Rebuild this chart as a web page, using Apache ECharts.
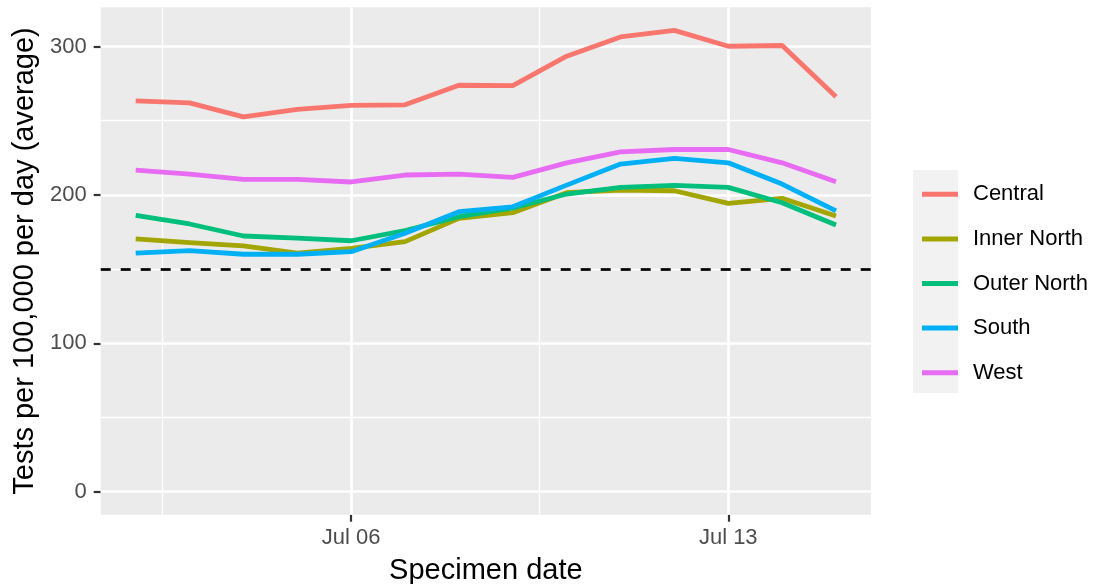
<!DOCTYPE html>
<html>
<head>
<meta charset="utf-8">
<script src="https://cdn.jsdelivr.net/npm/echarts@6/dist/echarts.min.js"></script>
<style>
  html, body { margin: 0; padding: 0; background: #ffffff; }
  #chart { width: 1094px; height: 584px; }
</style>
</head>
<body>
<div id="chart"></div>
<script>
// ---- data ----
const dates = ['2020-07-02','2020-07-03','2020-07-04','2020-07-05','2020-07-06','2020-07-07','2020-07-08',
               '2020-07-09','2020-07-10','2020-07-11','2020-07-12','2020-07-13','2020-07-14','2020-07-15'];
const central    = [263.4, 262.0, 252.6, 257.6, 260.3, 260.7, 273.9, 273.7, 293.5, 306.5, 310.9, 300.2, 300.7, 266.1];
const innerNorth = [170.3, 167.8, 165.6, 160.7, 164.0, 168.5, 184.2, 188.0, 201.5, 203.3, 202.8, 194.3, 197.7, 185.8];
const outerNorth = [186.2, 180.4, 172.3, 170.8, 169.1, 175.9, 185.3, 191.2, 200.6, 205.1, 206.4, 205.1, 194.7, 179.7];
const south      = [160.7, 162.4, 160.0, 160.0, 161.7, 174.1, 188.7, 192.0, 206.6, 220.8, 224.6, 221.6, 207.3, 189.3];
const west       = [216.7, 214.0, 210.5, 210.5, 208.7, 213.4, 214.0, 211.8, 221.6, 229.0, 230.6, 230.6, 221.6, 208.9];
const seriesNames = ['Central', 'Inner North', 'Outer North', 'South', 'West'];
const threshold = 150;
const xTickDays = [6, 13];
const xTickLabels = ['Jul 06', 'Jul 13'];
const xMinorDays = [2.5, 9.5];
const yTicks = [0, 100, 200, 300];
const yMinor = [50, 150, 250];

// ---- build ----
const days = dates.map(d => parseInt(d.slice(8, 10), 10));
const allValues = [central, innerNorth, outerNorth, south, west];
const colors = ['#F8766D', '#A3A500', '#00BF7D', '#00B0F6', '#E76BF3'];

const dataMax = Math.max(...allValues.flat());
const yMin = 0 - 0.05 * (dataMax - 0);
const yMax = dataMax + 0.05 * (dataMax - 0);
const xMin = days[0] - 0.05 * (days[days.length - 1] - days[0]);
const xMax = days[days.length - 1] + 0.05 * (days[days.length - 1] - days[0]);

const gridLines = [];
yTicks.forEach(v => gridLines.push({ yAxis: v, lineStyle: { color: '#ffffff', width: 2.7, type: 'solid' } }));
yMinor.forEach(v => gridLines.push({ yAxis: v, lineStyle: { color: '#ffffff', width: 1.35, type: 'solid' } }));
xTickDays.forEach(v => gridLines.push({ xAxis: v, lineStyle: { color: '#ffffff', width: 2.7, type: 'solid' } }));
xMinorDays.forEach(v => gridLines.push({ xAxis: v, lineStyle: { color: '#ffffff', width: 1.35, type: 'solid' } }));

const series = [
  {
    name: '_grid', type: 'line', data: [], silent: true, z: 1,
    markLine: { z: 1, silent: true, symbol: ['none', 'none'], label: { show: false }, animation: false, data: gridLines }
  },
  {
    name: '_hline', type: 'line', data: [], silent: true, z: 2,
    markLine: { z: 2, silent: true, symbol: ['none', 'none'], label: { show: false }, animation: false,
      data: [{ yAxis: threshold, lineStyle: { color: '#000000', width: 2.7, type: [10, 10] } }] }
  }
];
seriesNames.forEach((name, i) => {
  series.push({
    name: name, type: 'line', z: 6,
    data: days.map((d, j) => [d, allValues[i][j]]),
    showSymbol: false, symbol: 'none',
    color: colors[i],
    lineStyle: { color: colors[i], width: 4.8, cap: 'butt', join: 'round' },
    emphasis: { disabled: true }
  });
});

const chart = echarts.init(document.getElementById('chart'), null, { renderer: 'canvas' });
chart.setOption({
  animation: false,
  backgroundColor: '#ffffff',
  textStyle: { fontFamily: 'Liberation Sans, Arial, sans-serif' },
  grid: { left: 100.7, right: 223, top: 7.3, bottom: 69.3, show: true, backgroundColor: '#EBEBEB', borderWidth: 0,
          containLabel: false, outerBoundsMode: 'none' },
  graphic: [{
    type: 'rect', left: 913, top: 170, shape: { width: 45, height: 223 },
    style: { fill: '#F2F2F2' }, silent: true, z: -1
  }],
  legend: {
    data: seriesNames,
    orient: 'vertical', left: 917, top: 178.3,
    icon: 'rect', itemWidth: 36, itemHeight: 5, itemGap: 22.6,
    itemStyle: { borderWidth: 0 },
    textStyle: { fontSize: 22, color: '#000000', lineHeight: 22, padding: [0, 0, 0, 10], fontFamily: 'Liberation Sans, Arial, sans-serif' },
    selectedMode: false
  },
  xAxis: {
    type: 'value', min: xMin, max: xMax,
    name: 'Specimen date', nameLocation: 'middle', nameGap: 42,
    nameTextStyle: { fontSize: 29, color: '#000000', fontFamily: 'Liberation Sans, Arial, sans-serif' },
    axisLine: { show: false, onZero: false },
    axisTick: { show: true, length: 7, lineStyle: { color: '#333333', width: 2.2 }, customValues: xTickDays },
    axisLabel: {
      show: true, fontSize: 22, color: '#4D4D4D', margin: 12, customValues: xTickDays,
      formatter: v => { const k = xTickDays.indexOf(Math.round(v)); return k >= 0 ? xTickLabels[k] : ''; }
    },
    splitLine: { show: false }
  },
  yAxis: {
    type: 'value', min: yMin, max: yMax,
    name: 'Tests per 100,000 per day (average)', nameLocation: 'middle', nameGap: 53,
    nameTextStyle: { fontSize: 29, color: '#000000', fontFamily: 'Liberation Sans, Arial, sans-serif' },
    axisLine: { show: false, onZero: false },
    axisTick: { show: true, length: 7, lineStyle: { color: '#333333', width: 2.2 }, customValues: yTicks },
    axisLabel: { show: true, fontSize: 22, color: '#4D4D4D', margin: 14, customValues: yTicks },
    splitLine: { show: false }
  },
  series: series
});
</script>
</body>
</html>
